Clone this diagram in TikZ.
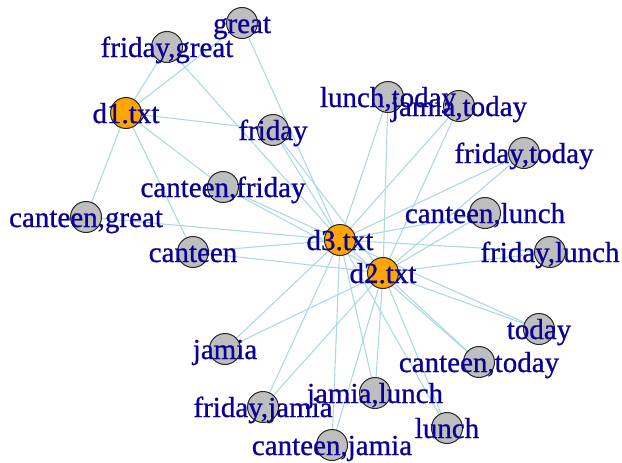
\documentclass[tikz,border=0pt]{standalone}
\usepackage{fontspec}
\setmainfont{Liberation Serif}[FakeBold=0.8]
\usetikzlibrary{backgrounds}
\definecolor{edgeblue}{RGB}{173,216,230}
\definecolor{labelblue}{RGB}{10,0,150}
\definecolor{docorange}{RGB}{255,165,0}
\definecolor{termgray}{RGB}{190,190,190}

\begin{document}
\begin{tikzpicture}[x=1pt,y=-1pt,
  vert/.style={circle, draw=black!85, line width=1pt, minimum size=31pt, inner sep=0pt},
  doc/.style={vert, fill=docorange},
  term/.style={vert, fill=termgray},
  lbl/.style={text=labelblue, font=\fontsize{29}{31}\selectfont, anchor=base, inner sep=0pt},
  link/.style={draw=edgeblue, line width=1.1pt}]
\useasboundingbox (0,0) rectangle (622,463);

% vertices: name / x / y / style
\foreach \n/\x/\y/\s in {
  d1/126/113/doc, d3/340/240/doc, d2/383/273/doc,
  great/242/23/term, fgreat/167/47/term, friday/273/130/term,
  cfriday/223/187/term, cgreat/86/217/term, canteen/193/252/term,
  ltoday/388/97/term, jtoday/459/106/term, ftoday/524/153/term,
  clunch/485/213/term, flunch/550/252/term, today/539/329/term,
  ctoday/479/362/term, jamia/225/349/term, jlunch/375/393/term,
  fjamia/263/407/term, lunch/447/428/term, cjamia/332/445/term}
  \node[\s] (\n) at (\x,\y) {};

% labels, set on the vertices
\foreach \n/\t in {
  d1/d1.txt, d3/d3.txt, d2/d2.txt,
  great/great, fgreat/{friday,great}, friday/friday,
  cfriday/{canteen,friday}, cgreat/{canteen,great}, canteen/canteen,
  ltoday/{lunch,today}, jtoday/{jamia,today}, ftoday/{friday,today},
  clunch/{canteen,lunch}, flunch/{friday,lunch}, today/today,
  ctoday/{canteen,today}, jamia/jamia, jlunch/{jamia,lunch},
  fjamia/{friday,jamia}, lunch/lunch, cjamia/{canteen,jamia}}
  \path (\n.center) ++(0,10) node[lbl] (\n-label) {\t};

% document--term links
\begin{pgfonlayer}{background}
  \foreach \t in {fgreat, great, friday, cfriday, cgreat, canteen}
    \draw[link] (d1.center) -- (\t.center);
  \foreach \t in {great, fgreat, friday, cfriday, cgreat, canteen,
                  ltoday, jtoday, ftoday, clunch, flunch, today,
                  ctoday, jamia, jlunch, fjamia, lunch, cjamia}
    \draw[link] (d3.center) -- (\t.center);
  \foreach \t in {friday, cfriday, canteen,
                  ltoday, jtoday, ftoday, clunch, flunch, today,
                  ctoday, jamia, jlunch, fjamia, lunch, cjamia}
    \draw[link] (d2.center) -- (\t.center);
\end{pgfonlayer}
\end{tikzpicture}
\end{document}
